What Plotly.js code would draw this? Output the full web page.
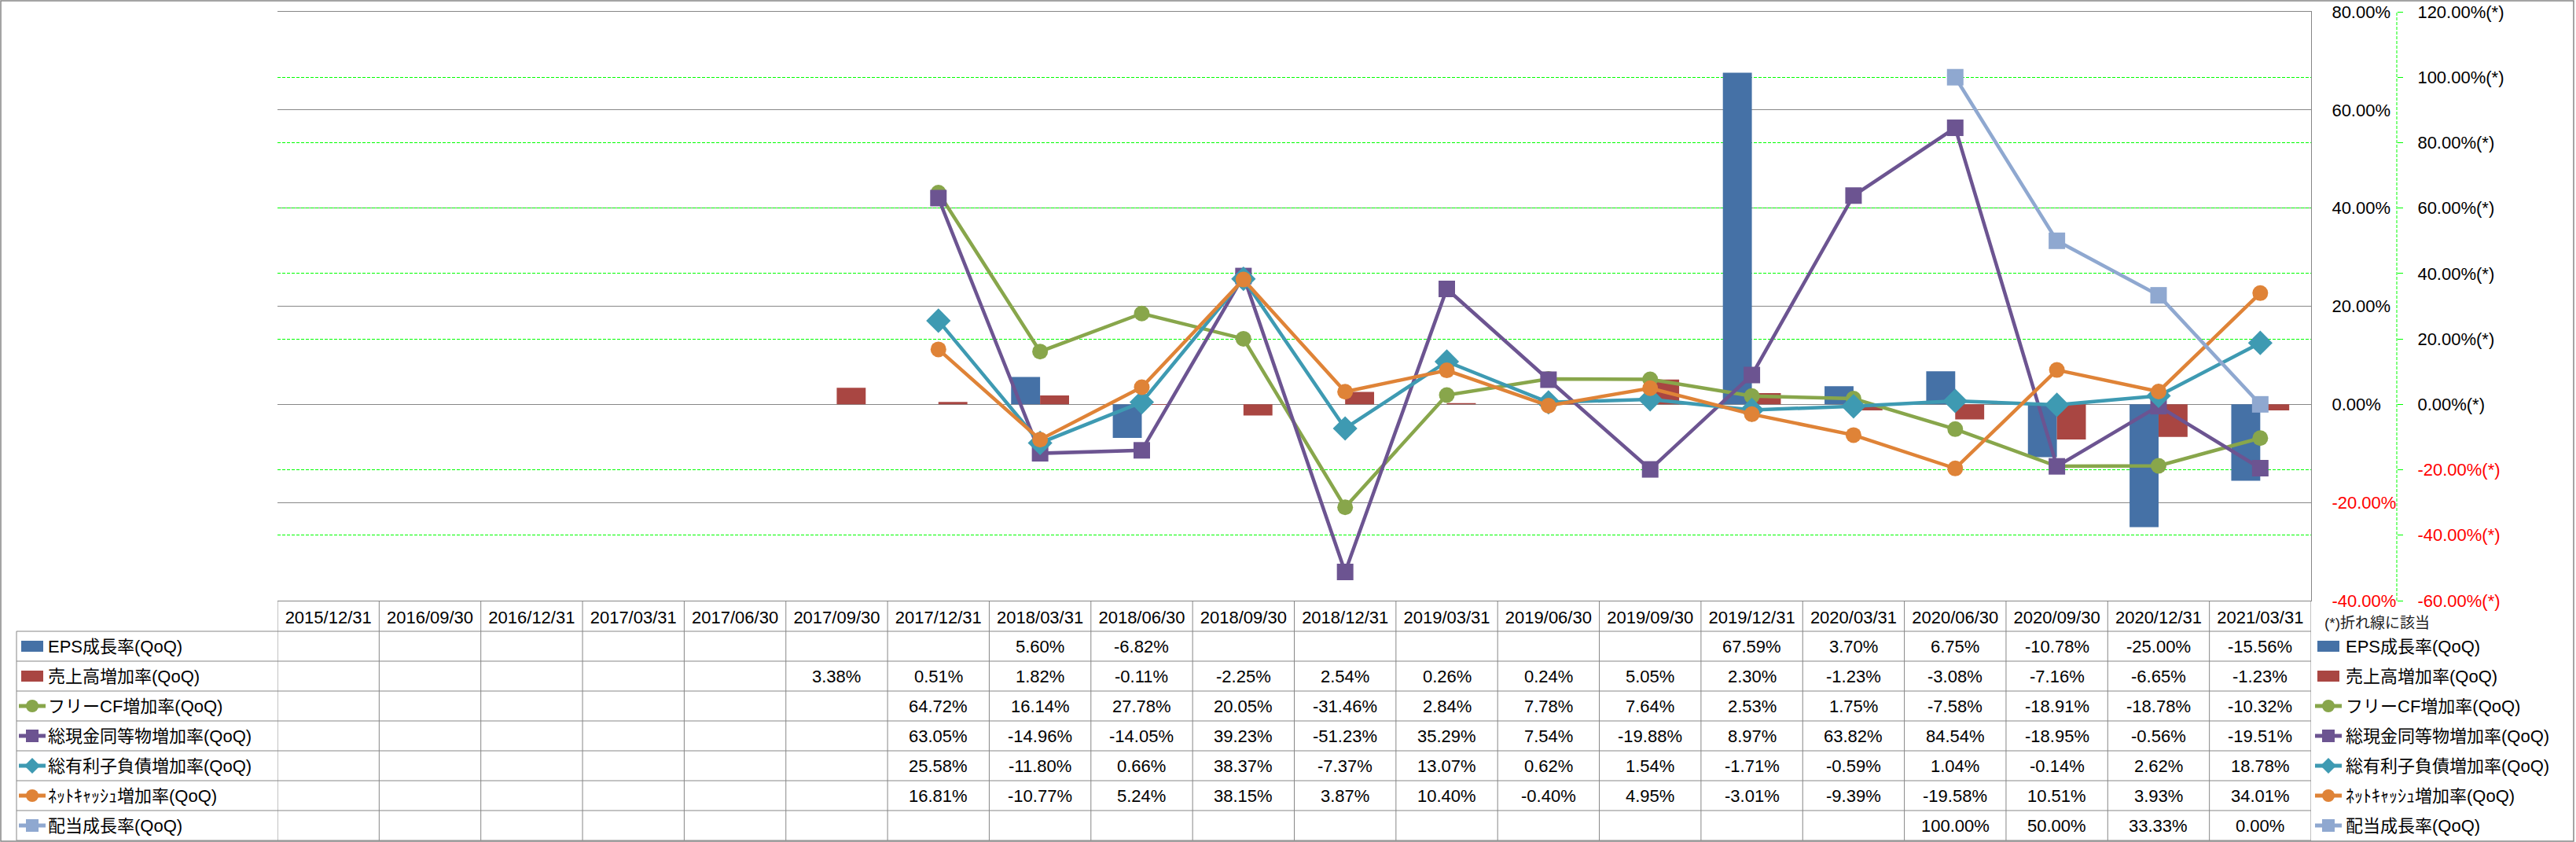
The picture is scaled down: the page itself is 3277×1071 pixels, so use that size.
<!DOCTYPE html>
<html>
<head>
<meta charset="utf-8">
<script src="https://cdn.plot.ly/plotly-3.0.1.min.js"></script>
<style>html,body{margin:0;padding:0;background:#fff;}#chart{width:3277px;height:1071px;}</style>
</head>
<body>
<div id="chart"></div>
<script>
// ---------- data ----------
const categories = ["2015/12/31","2016/09/30","2016/12/31","2017/03/31","2017/06/30","2017/09/30","2017/12/31","2018/03/31","2018/06/30","2018/09/30","2018/12/31","2019/03/31","2019/06/30","2019/09/30","2019/12/31","2020/03/31","2020/06/30","2020/09/30","2020/12/31","2021/03/31"];
const epsGrowth   = [null,null,null,null,null,null,null,5.60,-6.82,null,null,null,null,null,67.59,3.70,6.75,-10.78,-25.00,-15.56];
const salesGrowth = [null,null,null,null,null,3.38,0.51,1.82,-0.11,-2.25,2.54,0.26,0.24,5.05,2.30,-1.23,-3.08,-7.16,-6.65,-1.23];
const fcfGrowth   = [null,null,null,null,null,null,64.72,16.14,27.78,20.05,-31.46,2.84,7.78,7.64,2.53,1.75,-7.58,-18.91,-18.78,-10.32];
const cashGrowth  = [null,null,null,null,null,null,63.05,-14.96,-14.05,39.23,-51.23,35.29,7.54,-19.88,8.97,63.82,84.54,-18.95,-0.56,-19.51];
const debtGrowth  = [null,null,null,null,null,null,25.58,-11.80,0.66,38.37,-7.37,13.07,0.62,1.54,-1.71,-0.59,1.04,-0.14,2.62,18.78];
const netCashGrowth = [null,null,null,null,null,null,16.81,-10.77,5.24,38.15,3.87,10.40,-0.40,4.95,-3.01,-9.39,-19.58,10.51,3.93,34.01];
const dividendGrowth = [null,null,null,null,null,null,null,null,null,null,null,null,null,null,null,null,100.00,50.00,33.33,0.00];

const seriesNames = ["EPS成長率(QoQ)","売上高増加率(QoQ)","フリーCF増加率(QoQ)","総現金同等物増加率(QoQ)","総有利子負債増加率(QoQ)","ﾈｯﾄｷｬｯｼｭ増加率(QoQ)","配当成長率(QoQ)"];

const y1TickVals = [-40,-20,0,20,40,60,80];
const y1TickLabels = ["-40.00%","-20.00%","0.00%","20.00%","40.00%","60.00%","80.00%"];
const y2TickVals = [-60,-40,-20,0,20,40,60,80,100,120];
const y2TickLabels = ["-60.00%(*)","-40.00%(*)","-20.00%(*)","0.00%(*)","20.00%(*)","40.00%(*)","60.00%(*)","80.00%(*)","100.00%(*)","120.00%(*)"];
const noteText = "(*)折れ線に該当";

// ---------- styling ----------
const W = 3277, H = 1071;
const FONT = "Liberation Sans, Noto Sans CJK JP, sans-serif";
const GRAY = "#878787";
const colors = ["#4571A6","#A94642","#88A64B","#6C5491","#3E9AB2","#DF8337","#8FA8D0"];
const symbols = [null,null,"circle","square","diamond","circle","square"];
const msizes = [0,0,20,21,24,20,21];
const allSeries = [epsGrowth,salesGrowth,fcfGrowth,cashGrowth,debtGrowth,netCashGrowth,dividendGrowth];

const plotL = 353, plotR = 2940, plotT = 15, plotB = 764, axis2X = 3049;
const tableTop = 764, headerBottom = 803, rowH = 38;
const px = v => v / W;
const py = v => 1 - v / H;
const rowCenter = i => headerBottom + rowH * i + rowH / 2;

function colorize(t){ return t.trim().startsWith("-") ? '<span style="color:#ff0000">' + t + '</span>' : t; }

// ---------- traces ----------
const traces = [];
for (let i = 0; i < 2; i++) {
  traces.push({type:"bar", name:seriesNames[i], x:categories, y:allSeries[i],
    marker:{color:colors[i]}, yaxis:"y", xaxis:"x", hoverinfo:"skip"});
}
for (let i = 2; i < 7; i++) {
  traces.push({type:"scatter", mode:"lines+markers", name:seriesNames[i], x:categories, y:allSeries[i],
    line:{color:colors[i], width:4.5}, marker:{color:colors[i], symbol:symbols[i], size:msizes[i]},
    connectgaps:false, yaxis:"y2", xaxis:"x", hoverinfo:"skip"});
}

// ---------- shapes & annotations (table, legends) ----------
const shapes = [];
const annotations = [];
// chart border
shapes.push({type:"rect", xref:"paper", yref:"paper", x0:px(1), x1:px(W-3), y0:py(H-1), y1:py(1), line:{color:GRAY, width:1.5}, layer:"above"});
// secondary axis dashed line
shapes.push({type:"line", xref:"paper", yref:"paper", x0:px(axis2X), x1:px(axis2X), y0:py(plotB), y1:py(plotT), line:{color:"#00ff00", width:1, dash:"4px,2px"}});
// table horizontal lines
for (let r = 0; r <= 7; r++) {
  const yy = headerBottom + r * rowH;
  shapes.push({type:"line", xref:"paper", yref:"paper", x0:px(21), x1:px(plotR), y0:py(yy), y1:py(yy), line:{color:GRAY, width:1}});
}
// table vertical lines
shapes.push({type:"line", xref:"paper", yref:"paper", x0:px(21), x1:px(21), y0:py(headerBottom), y1:py(headerBottom + 7*rowH), line:{color:GRAY, width:1}});
for (let k = 0; k <= categories.length; k++) {
  shapes.push({type:"line", xref:"x", yref:"paper", x0:k - 0.5, x1:k - 0.5, y0:py(tableTop), y1:py(headerBottom + 7*rowH), line:{color:GRAY, width:1}});
}
// table cell values
for (let s = 0; s < allSeries.length; s++) {
  const arr = allSeries[s];
  for (let c = 0; c < categories.length; c++) {
    if (arr[c] === null) continue;
    annotations.push({xref:"x", yref:"paper", x:categories[c], y:py(rowCenter(s)), text:arr[c].toFixed(2) + "%",
      showarrow:false, xanchor:"center", yanchor:"middle", font:{family:FONT, size:22, color:"#000"}});
  }
}
// legend keys helper
function addKey(cx, cy, i) {
  if (i < 2) {
    shapes.push({type:"rect", xref:"paper", yref:"paper", x0:px(cx-14), x1:px(cx+14), y0:py(cy+7), y1:py(cy-7), fillcolor:colors[i], line:{width:0}});
  } else {
    shapes.push({type:"line", xref:"paper", yref:"paper", x0:px(cx-17), x1:px(cx+17), y0:py(cy), y1:py(cy), line:{color:colors[i], width:5}});
    const r = 8;
    if (symbols[i] === "circle") {
      shapes.push({type:"circle", xref:"paper", yref:"paper", x0:px(cx-r), x1:px(cx+r), y0:py(cy+r), y1:py(cy-r), fillcolor:colors[i], line:{width:0}});
    } else if (symbols[i] === "square") {
      shapes.push({type:"rect", xref:"paper", yref:"paper", x0:px(cx-r), x1:px(cx+r), y0:py(cy+r), y1:py(cy-r), fillcolor:colors[i], line:{width:0}});
    } else {
      const d = 10;
      const path = "M" + px(cx) + "," + py(cy-d) + " L" + px(cx+d) + "," + py(cy) + " L" + px(cx) + "," + py(cy+d) + " L" + px(cx-d) + "," + py(cy) + " Z";
      shapes.push({type:"path", xref:"paper", yref:"paper", path:path, fillcolor:colors[i], line:{width:0}});
    }
  }
}
for (let i = 0; i < seriesNames.length; i++) {
  const cy = rowCenter(i);
  addKey(41, cy, i);
  annotations.push({xref:"paper", yref:"paper", x:px(59), y:py(cy), text:seriesNames[i], showarrow:false, xanchor:"left", yanchor:"middle", font:{family:FONT, size:22, color:"#000"}});
  addKey(2962, cy, i);
  annotations.push({xref:"paper", yref:"paper", x:px(2982), y:py(cy), text:seriesNames[i], showarrow:false, xanchor:"left", yanchor:"middle", font:{family:FONT, size:22, color:"#000"}});
}
annotations.push({xref:"paper", yref:"paper", x:px(2955), y:py(792), text:noteText, showarrow:false, xanchor:"left", yanchor:"middle", font:{family:FONT, size:19, color:"#222"}});

const layout = {
  width:W, height:H,
  margin:{l:0, r:0, t:0, b:0, pad:0},
  paper_bgcolor:"#ffffff", plot_bgcolor:"#ffffff",
  showlegend:false,
  barmode:"group", bargap:0.43, bargroupgap:0,
  font:{family:FONT, size:22, color:"#000"},
  xaxis:{domain:[px(plotL), px(plotR)], type:"category", categoryarray:categories, range:[-0.5, categories.length - 0.5],
    showgrid:false, zeroline:false, showline:true, mirror:true, linecolor:GRAY, linewidth:1,
    ticks:"", showticklabels:true, tickfont:{family:FONT, size:22, color:"#000"}, ticklabelstandoff:2, tickangle:0, fixedrange:true},
  yaxis:{domain:[py(plotB), py(plotT)], side:"right", anchor:"x", range:[-40, 80],
    tickmode:"array", tickvals:y1TickVals, ticktext:y1TickLabels.map(colorize),
    showgrid:true, gridcolor:GRAY, gridwidth:1, zeroline:true, zerolinecolor:GRAY, zerolinewidth:1,
    showline:true, linecolor:GRAY, linewidth:1, ticks:"", ticklabelstandoff:21,
    tickfont:{family:FONT, size:22, color:"#000"}, fixedrange:true},
  yaxis2:{overlaying:"y", side:"right", anchor:"free", position:px(axis2X), range:[-60, 120],
    tickmode:"array", tickvals:y2TickVals, ticktext:y2TickLabels.map(colorize),
    showgrid:true, gridcolor:"#00ff00", gridwidth:1, griddash:"4px,2px", zeroline:false,
    showline:false, ticks:"outside", ticklen:7, tickcolor:"#00ff00", tickwidth:1, ticklabelstandoff:14,
    tickfont:{family:FONT, size:22, color:"#000"}, fixedrange:true},
  shapes:shapes,
  annotations:annotations
};

Plotly.newPlot("chart", traces, layout, {staticPlot:true, displayModeBar:false});
</script>
</body>
</html>
